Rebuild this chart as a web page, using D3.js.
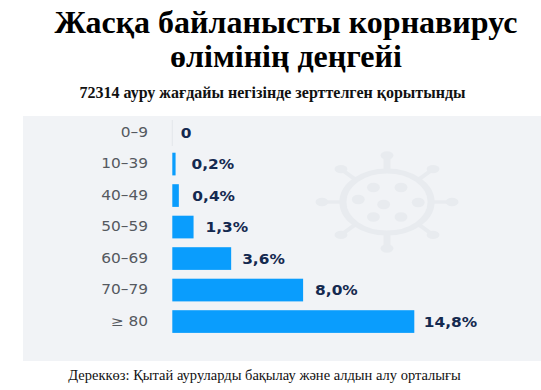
<!DOCTYPE html>
<html><head><meta charset="utf-8">
<script src="https://cdn.jsdelivr.net/npm/d3@7/dist/d3.min.js"></script>
<style>html,body{margin:0;padding:0;background:#fff}svg{display:block}</style>
</head><body><div id="c"></div>
<script>
const categories = ["0–9","10–39","40–49","50–59","60–69","70–79","≥ 80"];
const values = [0,0.2,0.4,1.3,3.6,8.0,14.8];
const valueLabels = ["0","0,2%","0,4%","1,3%","3,6%","8,0%","14,8%"];
const titleLines = ["Жасқа байланысты корнавирус","өлімінің деңгейі"];
const subtitle = "72314 ауру жағдайы негізінде зерттелген қорытынды";
const source = "Дереккөз: Қытай ауруларды бақылау және алдын алу орталығы";

const W=541,H=390;
const svg=d3.select("#c").append("svg").attr("width",W).attr("height",H);
svg.append("rect").attr("x",23).attr("y",116).attr("width",518).attr("height",245).attr("fill","#f1f3f6");

// virus watermark
const vc="#e8ebef";
const v=svg.append("g").attr("transform","translate(387,202) scale(1.4,1)");
v.append("ellipse").attr("rx",31.5).attr("ry",31).attr("fill","none").attr("stroke",vc).attr("stroke-width",5);
d3.range(8).forEach(i=>{
  const a=i*Math.PI/4, r1=33, r2=46.5;
  const ca=Math.cos(a), sa=Math.sin(a);
  v.append("line").attr("x1",ca*r1).attr("y1",sa*r1).attr("x2",ca*r2).attr("y2",sa*r2).attr("stroke",vc).attr("stroke-width",i%4===2?5:3.5);
  v.append("ellipse").attr("cx",ca*r2).attr("cy",sa*r2).attr("rx",4.6).attr("ry",4.2).attr("fill",vc);
});
[[-9.7,-14.5],[10,-14.5],[-20.5,-2.5],[-2.4,2.5],[22.3,0.5],[-9.7,15],[10,15]].forEach(p=>{
  v.append("ellipse").attr("cx",p[0]).attr("cy",p[1]).attr("rx",4.6).attr("ry",4.8).attr("fill",vc);
});

const x=d3.scaleLinear().domain([0,14.8]).range([172.3,414.3]);
const y=d3.scaleBand().domain(categories).range([116.8,337.3]).paddingInner(0.28).paddingOuter(0.14);

svg.append("line").attr("x1",x(0)).attr("x2",x(0)).attr("y1",120).attr("y2",146).attr("stroke","#e4e7eb");

svg.selectAll("rect.bar").data(values).join("rect").attr("class","bar")
  .attr("x",x(0)).attr("y",(d,i)=>y(categories[i]))
  .attr("width",d=>x(d)-x(0)).attr("height",y.bandwidth()).attr("fill","#0a9dfd");

const axis=svg.append("g").attr("transform","translate(148,0)").call(d3.axisLeft(y).tickSize(0).tickPadding(0));
axis.select(".domain").remove();
axis.selectAll("text").attr("font-family","DejaVu Sans").attr("font-size",13.5).attr("fill","#55595f")
  .attr("transform","scale(1.14,1)").attr("x",0);

const gaps=[8.5,16,13.5,12,11,12,9.5];
svg.selectAll("text.val").data(values).join("text").attr("class","val")
  .attr("transform",(d,i)=>`translate(${x(d)+gaps[i]},${y(categories[i])+y.bandwidth()/2+5}) scale(1.14,1)`)
  .attr("font-family","DejaVu Sans").attr("font-weight","bold").attr("font-size",13.5).attr("fill","#14294f")
  .text((d,i)=>valueLabels[i]);

const serif="Liberation Serif";
svg.selectAll("text.t").data(titleLines).join("text").attr("class","t")
  .attr("x",286).attr("y",(d,i)=>i?67:33)
  .attr("text-anchor","middle").attr("font-family",serif).attr("font-weight","bold").attr("font-size",32).attr("fill","#000").text(d=>d);
svg.append("text").attr("x",272.5).attr("y",98).attr("text-anchor","middle").attr("font-family",serif).attr("font-weight","bold").attr("font-size",16).attr("fill","#111").text(subtitle);
svg.append("text").attr("x",264.5).attr("y",380).attr("text-anchor","middle").attr("font-family",serif).attr("font-size",14.5).attr("fill","#111").text(source);
</script></body></html>
